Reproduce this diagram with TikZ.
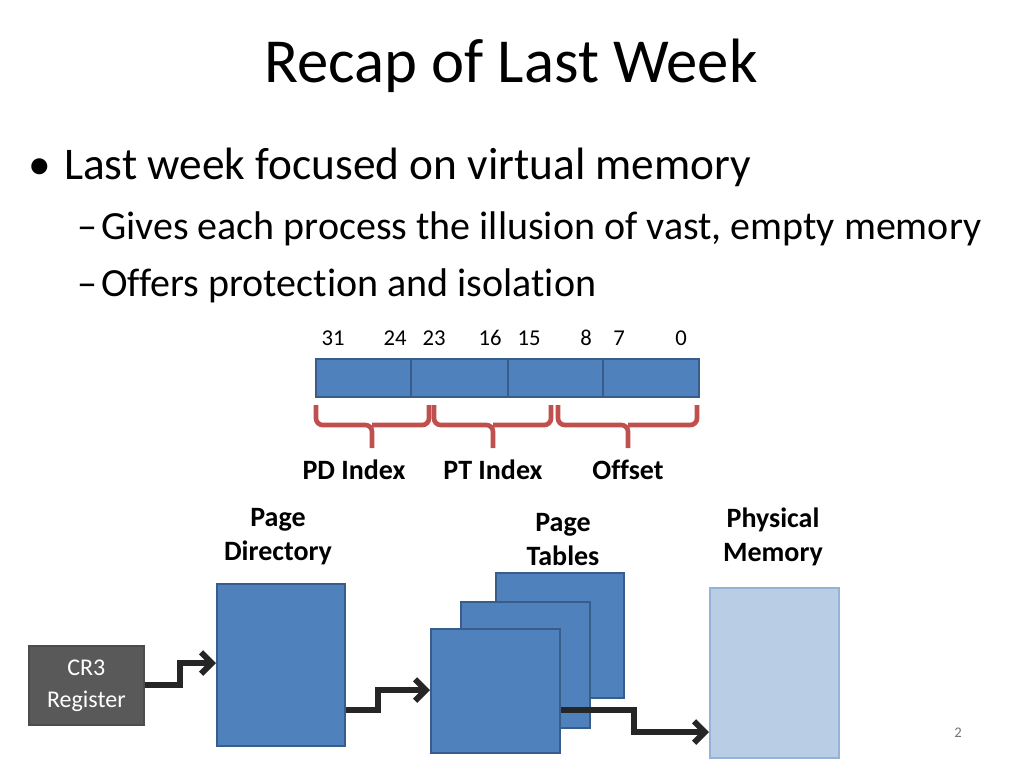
\documentclass[tikz,border=0pt]{standalone}
\usepackage{fontspec}
\setmainfont[Ligatures={NoCommon}]{Carlito}
\usetikzlibrary{arrows.meta}
\definecolor{blu}{HTML}{4F81BD}
\definecolor{bluD}{HTML}{385D8A}
\definecolor{lblu}{HTML}{B9CDE5}
\definecolor{lbluD}{HTML}{95B3D7}
\definecolor{redb}{HTML}{C0504D}
\definecolor{gry}{HTML}{595959}
\begin{document}
\begin{tikzpicture}[x=0.75pt,y=-0.75pt,
  box/.style={draw=bluD,fill=blu,line width=1.5pt},
  lbl/.style={font=\fontsize{21}{25.5}\selectfont\bfseries,align=center},
  brc/.style={draw=redb,line width=3.5pt,rounded corners=5pt},
  arr/.style={draw=black!85,line width=4.5pt,-{Straight Barb[length=8pt,width=16pt]}},
  bit/.style={font=\fontsize{17}{20}\selectfont}]
\useasboundingbox (0,0) rectangle (1024,768);
\node (title) at (511,66) {\fontsize{47}{56}\selectfont Recap of Last Week};
\node[anchor=west,inner sep=0] (b1) at (28,167) {\fontsize{34}{40}\selectfont •\hspace{10pt}Last week focused on virtual memory};
\node[anchor=west,inner sep=0] (s1) at (77,229) {\fontsize{30}{36}\selectfont –\hspace{3pt}Gives each process the illusion of vast, empty memory};
\node[anchor=west,inner sep=0] (s2) at (77,286) {\fontsize{30}{36}\selectfont –\hspace{3pt}Offers protection and isolation};
\foreach \n/\x in {31/333,24/395,23/434,16/490,15/529,8/586,7/619,0/681}
  \node[bit] (b\n) at (\x,338) {\n};
\node[box,minimum width=287pt,minimum height=28.5pt,inner sep=0,anchor=north west] (bar) at (315,358) {};
\draw[bluD,line width=1.5pt] (411,358) -- (411,396) (508,358) -- (508,396) (603,358) -- (603,396);
\draw[brc] (316,405) -- (316,425) -- (372,425) -- (372,448) (372,425) -- (429,425) -- (429,405);
\draw[brc] (434,405) -- (434,425) -- (493,425) -- (493,448) (493,425) -- (551,425) -- (551,405);
\draw[brc] (558,405) -- (558,425) -- (628,425) -- (628,448) (628,425) -- (697,425) -- (697,405);
\node[lbl] (pdi) at (354,470) {PD Index};
\node[lbl] (pti) at (493,470) {PT Index};
\node[lbl] (off) at (628,470) {Offset};
\node[lbl] (pdl) at (278,537) {Page\\Directory};
\node[lbl] (ptl) at (563,540) {Page\\Tables};
\node[lbl] (pml) at (773,537) {Physical\\Memory};
\node[box,minimum width=96pt,minimum height=121.5pt,inner sep=0,anchor=north west] (pd) at (216,583) {};
\node[box,minimum width=96pt,minimum height=94pt,inner sep=0,anchor=north west] (pt3) at (495,572) {};
\node[box,minimum width=96.5pt,minimum height=94.5pt,inner sep=0,anchor=north west] (pt2) at (460,601) {};
\node[box,minimum width=97pt,minimum height=93pt,inner sep=0,anchor=north west] (pt1) at (430,628) {};
\node[draw=lbluD,fill=lblu,line width=1.5pt,minimum width=96.5pt,minimum height=127.5pt,inner sep=0,anchor=north west] (pm) at (709,587) {};
\node[draw=black!70,fill=gry,line width=1.5pt,minimum width=86pt,minimum height=59pt,inner sep=0,anchor=north west,text=white,align=center,font=\fontsize{18}{24}\selectfont] (cr3) at (28,645) {CR3\\Register};
\draw[arr] (cr3.east |- 0,685) -- (180,685) -- (180,663) -- (pd.west |- 0,663);
\draw[arr] (pd.east |- 0,710) -- (378,710) -- (378,690) -- (pt1.west |- 0,690);
\draw[arr] (pt1.east |- 0,710) -- (634,710) -- (634,732) -- (pm.west |- 0,732);
\node[font=\fontsize{11}{13}\selectfont,text=black!55] (pg) at (958,733) {2};
\end{tikzpicture}
\end{document}
